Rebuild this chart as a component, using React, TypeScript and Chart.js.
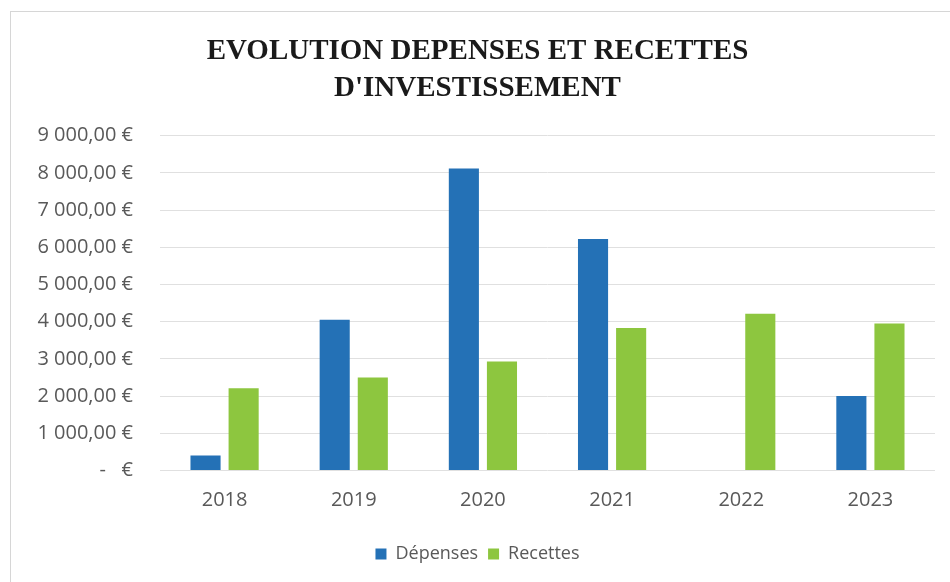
import React, { useEffect, useRef } from "react";
import { Chart, registerables } from "chart.js";

Chart.register(...registerables);

const categories = ["2018", "2019", "2020", "2021", "2022", "2023"];
const depenses = [400, 4050, 8120, 6220, 0, 2000];
const recettes = [2210, 2500, 2930, 3830, 4210, 3950];
const titleLines = ["EVOLUTION DEPENSES ET RECETTES", "D'INVESTISSEMENT"];
const seriesNames = ["Dépenses", "Recettes"];
const yMax = 9000;
const yStep = 1000;

function formatEuro(v: number): string {
  if (v === 0) return "-   €";
  const s = Math.round(v).toString().replace(/\B(?=(\d{3})+(?!\d))/g, " ");
  return s + ",00 €";
}

export default function App() {
  const ref = useRef<HTMLCanvasElement | null>(null);
  useEffect(() => {
    if (!ref.current) return;
    const chart = new Chart(ref.current, {
      type: "bar",
      data: {
        labels: categories,
        datasets: [
          {
            label: seriesNames[0],
            data: depenses,
            backgroundColor: "#2471B6",
            categoryPercentage: 0.59,
            barPercentage: 0.79,
          },
          {
            label: seriesNames[1],
            data: recettes,
            backgroundColor: "#8DC63F",
            categoryPercentage: 0.59,
            barPercentage: 0.79,
          },
        ],
      },
      options: {
        animation: false,
        responsive: false,
        maintainAspectRatio: false,
        layout: { padding: { left: 20, right: 15, top: 0, bottom: 9 } },
        plugins: {
          title: {
            display: true,
            text: titleLines,
            color: "#1a1a1a",
            font: { family: "'Liberation Serif', 'Times New Roman', serif", size: 29, weight: "bold", lineHeight: 1.27 },
            padding: { top: 33, bottom: 29 },
          },
          legend: {
            position: "bottom",
            labels: {
              color: "#595959",
              font: { family: "'Open Sans', sans-serif", size: 18 },
              boxWidth: 11,
              boxHeight: 11,
              padding: 10,
            },
          },
          tooltip: { enabled: false },
        },
        scales: {
          x: {
            grid: { display: false, drawTicks: false },
            border: { display: false },
            ticks: {
              color: "#595959",
              font: { family: "'Open Sans', sans-serif", size: 20 },
              padding: 18,
            },
            afterFit: (scale: any) => {
              scale.height = 64.5;
            },
          },
          y: {
            min: 0,
            max: yMax,
            grid: { color: "#e0e0e0", lineWidth: 1, drawTicks: false },
            border: { display: false },
            ticks: {
              stepSize: yStep,
              color: "#595959",
              font: { family: "'Open Sans', sans-serif", size: 20 },
              padding: 27,
              callback: (v: any) => formatEuro(Number(v)),
            },
            afterFit: (scale: any) => {
              scale.width = 140;
            },
          },
        },
      },
    });
    return () => chart.destroy();
  }, []);
  return (
    <div style={{ position: "fixed", left: 0, top: 0, width: 950, height: 582, background: "#fff" }}>
      <div
        style={{
          position: "absolute",
          left: 10,
          top: 11,
          right: 0,
          bottom: 0,
          borderTop: "1px solid #d6d6d6",
          borderLeft: "1px solid #d6d6d6",
        }}
      />
      <canvas ref={ref} width={950} height={582} style={{ position: "absolute", left: 0, top: 0 }} />
    </div>
  );
}
